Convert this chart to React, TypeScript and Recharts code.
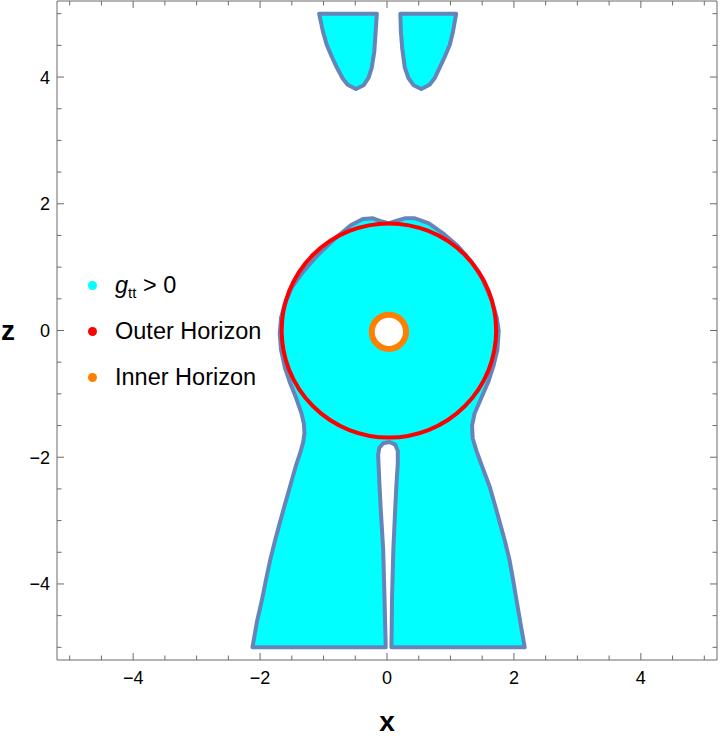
import { ScatterChart, Scatter, XAxis, YAxis, Legend, Label } from 'recharts'

// region where g_tt > 0, outlines (x, z)
const mainBody = [
  { x: -2.12, z: -5 }, { x: -2.05, z: -4.6 }, { x: -1.97, z: -4.25 }, { x: -1.9, z: -3.9 },
  { x: -1.84, z: -3.62 }, { x: -1.76, z: -3.3 }, { x: -1.69, z: -3.04 }, { x: -1.61, z: -2.75 },
  { x: -1.53, z: -2.47 }, { x: -1.44, z: -2.15 }, { x: -1.37, z: -1.94 }, { x: -1.32, z: -1.76 },
  { x: -1.3, z: -1.62 }, { x: -1.31, z: -1.47 }, { x: -1.35, z: -1.3 }, { x: -1.43, z: -1.07 },
  { x: -1.53, z: -0.82 }, { x: -1.61, z: -0.58 }, { x: -1.67, z: -0.3 }, { x: -1.69, z: -0.05 },
  { x: -1.67, z: 0.2 }, { x: -1.61, z: 0.42 }, { x: -1.5, z: 0.68 }, { x: -1.32, z: 0.93 },
  { x: -1.1, z: 1.18 }, { x: -0.82, z: 1.45 }, { x: -0.57, z: 1.66 }, { x: -0.38, z: 1.76 },
  { x: -0.22, z: 1.77 }, { x: -0.08, z: 1.72 }, { x: 0.03, z: 1.69 }, { x: 0.14, z: 1.73 },
  { x: 0.28, z: 1.77 }, { x: 0.44, z: 1.77 }, { x: 0.66, z: 1.69 }, { x: 0.9, z: 1.52 },
  { x: 1.12, z: 1.33 }, { x: 1.32, z: 1.1 }, { x: 1.5, z: 0.82 }, { x: 1.65, z: 0.47 },
  { x: 1.73, z: 0.2 }, { x: 1.76, z: 0 }, { x: 1.74, z: -0.3 }, { x: 1.68, z: -0.55 },
  { x: 1.6, z: -0.8 }, { x: 1.47, z: -1.1 }, { x: 1.38, z: -1.31 }, { x: 1.34, z: -1.5 },
  { x: 1.35, z: -1.7 }, { x: 1.41, z: -1.9 }, { x: 1.5, z: -2.15 }, { x: 1.62, z: -2.47 },
  { x: 1.7, z: -2.75 }, { x: 1.78, z: -3.04 }, { x: 1.86, z: -3.33 }, { x: 1.93, z: -3.62 },
  { x: 1.99, z: -3.95 }, { x: 2.04, z: -4.25 }, { x: 2.1, z: -4.6 }, { x: 2.17, z: -5 },
  { x: 0.07, z: -5 }, { x: 0.08, z: -4.2 }, { x: 0.1, z: -3.46 }, { x: 0.13, z: -2.8 },
  { x: 0.15, z: -2.41 }, { x: 0.17, z: -2.1 }, { x: 0.17, z: -1.9 }, { x: 0.13, z: -1.8 },
  { x: 0.04, z: -1.76 }, { x: -0.06, z: -1.78 }, { x: -0.12, z: -1.85 }, { x: -0.14, z: -1.96 },
  { x: -0.12, z: -2.41 }, { x: -0.1, z: -2.8 }, { x: -0.06, z: -3.46 }, { x: -0.04, z: -4.2 },
  { x: -0.02, z: -5 },
]

const leftLobe = [
  { x: -1.07, z: 5 }, { x: -1.01, z: 4.72 }, { x: -0.95, z: 4.51 }, { x: -0.87, z: 4.32 },
  { x: -0.79, z: 4.15 }, { x: -0.7, z: 3.98 }, { x: -0.62, z: 3.88 }, { x: -0.49, z: 3.81 },
  { x: -0.37, z: 3.87 }, { x: -0.29, z: 3.99 }, { x: -0.24, z: 4.15 }, { x: -0.2, z: 4.4 },
  { x: -0.18, z: 4.7 }, { x: -0.16, z: 5 },
]

const rightLobe = [
  { x: 0.21, z: 5 }, { x: 0.22, z: 4.7 }, { x: 0.24, z: 4.45 }, { x: 0.28, z: 4.15 },
  { x: 0.34, z: 3.98 }, { x: 0.42, z: 3.87 }, { x: 0.54, z: 3.81 }, { x: 0.67, z: 3.88 },
  { x: 0.75, z: 3.98 }, { x: 0.83, z: 4.15 }, { x: 0.91, z: 4.32 }, { x: 0.99, z: 4.51 },
  { x: 1.04, z: 4.72 }, { x: 1.09, z: 5 },
]

// horizons: centre, point on the right rim, point on the top rim
const outerHorizon = [{ x: 0.03, z: 0 }, { x: 1.72, z: 0 }, { x: 0.03, z: 1.69 }]
const innerHorizon = [{ x: 0.03, z: -0.02 }, { x: 0.3, z: -0.02 }, { x: 0.03, z: 0.25 }]

const xTicks = [-5, -4.5, -4, -3.5, -3, -2.5, -2, -1.5, -1, -0.5, 0, 0.5, 1, 1.5, 2, 2.5, 3, 3.5, 4, 4.5, 5]
const zTicks = [-5, -4.5, -4, -3.5, -3, -2.5, -2, -1.5, -1, -0.5, 0, 0.5, 1, 1.5, 2, 2.5, 3, 3.5, 4, 4.5, 5]

const legendItems = [
  { name: 'gtt', color: '#00FFFF' },
  { name: 'Outer Horizon', color: '#FF0000' },
  { name: 'Inner Horizon', color: '#FF8000' },
]

const FONT = '"Liberation Sans", Arial, Helvetica, sans-serif'
const FRAME = '#6b6b6b'
const OUTLINE = '#6584BA'
const MAJOR = 7
const MINOR = 4.5

const isMajor = (v: number) => v % 2 === 0
const fmt = (v: number) => (v < 0 ? '\u2212' + Math.abs(v) : String(v))

const noDot = () => <g />

const regionLine = (props: any) => {
  const pts = props.points || []
  const d = pts.map((p: any, i: number) => `${i === 0 ? 'M' : 'L'}${p.x},${p.y}`).join(' ') + ' Z'
  return <path d={d} fill="#00FFFF" stroke={OUTLINE} strokeWidth={4} strokeLinejoin="round" />
}

const horizonLine = (color: string, width: number, fill: string) => (props: any) => {
  const [c, r1, r2] = props.points || []
  if (!c) return <g />
  return (
    <ellipse cx={c.x} cy={c.y} rx={Math.abs(r1.x - c.x)} ry={Math.abs(r2.y - c.y)}
      fill={fill} stroke={color} strokeWidth={width} />
  )
}

const BottomTick = ({ x, y, payload }: any) => {
  const major = isMajor(payload.value)
  return (
    <g>
      <line x1={x} y1={y} x2={x} y2={y - (major ? MAJOR : MINOR)} stroke={FRAME} />
      {major && (
        <text x={x} y={y + 24} textAnchor="middle" fontSize={18} fontFamily={FONT} fill="#000">
          {fmt(payload.value)}
        </text>
      )}
    </g>
  )
}

const TopTick = ({ x, y, payload }: any) => (
  <line x1={x} y1={y} x2={x} y2={y + (isMajor(payload.value) ? MAJOR : MINOR)} stroke={FRAME} />
)

const LeftTick = ({ x, y, payload }: any) => {
  const major = isMajor(payload.value)
  return (
    <g>
      <line x1={x} y1={y} x2={x + (major ? MAJOR : MINOR)} y2={y} stroke={FRAME} />
      {major && (
        <text x={x - 7} y={y + 6.5} textAnchor="end" fontSize={18} fontFamily={FONT} fill="#000">
          {fmt(payload.value)}
        </text>
      )}
    </g>
  )
}

const RightTick = ({ x, y, payload }: any) => (
  <line x1={x} y1={y} x2={x - (isMajor(payload.value) ? MAJOR : MINOR)} y2={y} stroke={FRAME} />
)

const renderLegend = () => (
  <div style={{ fontFamily: FONT, fontSize: 23.5, color: '#000' }}>
    {legendItems.map((item) => (
      <div key={item.name} style={{ display: 'flex', alignItems: 'center', height: 46 }}>
        <span style={{ width: 9, height: 9, borderRadius: '50%', background: item.color, display: 'inline-block' }} />
        <span style={{ marginLeft: 18, whiteSpace: 'nowrap' }}>
          {item.name === 'gtt' ? (
            <>
              <i>g</i>
              <span style={{ fontSize: 15, position: 'relative', top: 5 }}>tt</span>
              {' > 0'}
            </>
          ) : item.name}
        </span>
      </div>
    ))}
  </div>
)

export default function App() {
  return (
    <div style={{ position: 'absolute', left: 0, top: 0, background: '#fff' }}>
      <ScatterChart width={720} height={740} margin={{ top: 0, right: 2, bottom: 0, left: 0 }}>
        <XAxis xAxisId={0} type="number" dataKey="x" domain={[-5.2, 5.2]} allowDataOverflow
          ticks={xTicks} interval={0} tickSize={0} tickMargin={0} tickLine={false}
          tick={<BottomTick />} height={80} axisLine={{ stroke: FRAME }}>
          <Label value="x" position="insideBottom" offset={9}
            style={{ fontSize: 28, fontWeight: 'bold', fill: '#000', fontFamily: FONT }} />
        </XAxis>
        <XAxis xAxisId="top" orientation="top" type="number" dataKey="x" domain={[-5.2, 5.2]} allowDataOverflow
          ticks={xTicks} interval={0} tickSize={0} tickMargin={0} tickLine={false}
          tick={<TopTick />} height={1} axisLine={{ stroke: FRAME }} />
        <YAxis yAxisId={0} type="number" dataKey="z" domain={[-5.2, 5.2]} allowDataOverflow
          ticks={zTicks} interval={0} tickSize={0} tickMargin={0} tickLine={false}
          tick={<LeftTick />} width={57} axisLine={{ stroke: FRAME }}>
          <Label value="z" position="insideLeft" offset={1}
            style={{ fontSize: 28, fontWeight: 'bold', fill: '#000', fontFamily: FONT }} />
        </YAxis>
        <YAxis yAxisId="right" orientation="right" type="number" dataKey="z" domain={[-5.2, 5.2]} allowDataOverflow
          ticks={zTicks} interval={0} tickSize={0} tickMargin={0} tickLine={false}
          tick={<RightTick />} width={1} axisLine={{ stroke: FRAME }} />

        <Scatter name="body" data={mainBody} shape={noDot} line={regionLine} isAnimationActive={false} />
        <Scatter name="left lobe" data={leftLobe} xAxisId="top" yAxisId="right" shape={noDot}
          line={regionLine} isAnimationActive={false} />
        <Scatter name="right lobe" data={rightLobe} xAxisId="top" yAxisId="right" shape={noDot}
          line={regionLine} isAnimationActive={false} />
        <Scatter name="Outer Horizon" data={outerHorizon} shape={noDot}
          line={horizonLine('#FF0000', 4, 'none')} isAnimationActive={false} />
        <Scatter name="Inner Horizon" data={innerHorizon} shape={noDot}
          line={horizonLine('#FF8000', 6, '#FFFFFF')} isAnimationActive={false} />

        <Legend layout="horizontal" verticalAlign="middle" align="center" content={renderLegend}
          wrapperStyle={{ left: 88, top: 262, width: 'auto' }} />
      </ScatterChart>
    </div>
  )
}
